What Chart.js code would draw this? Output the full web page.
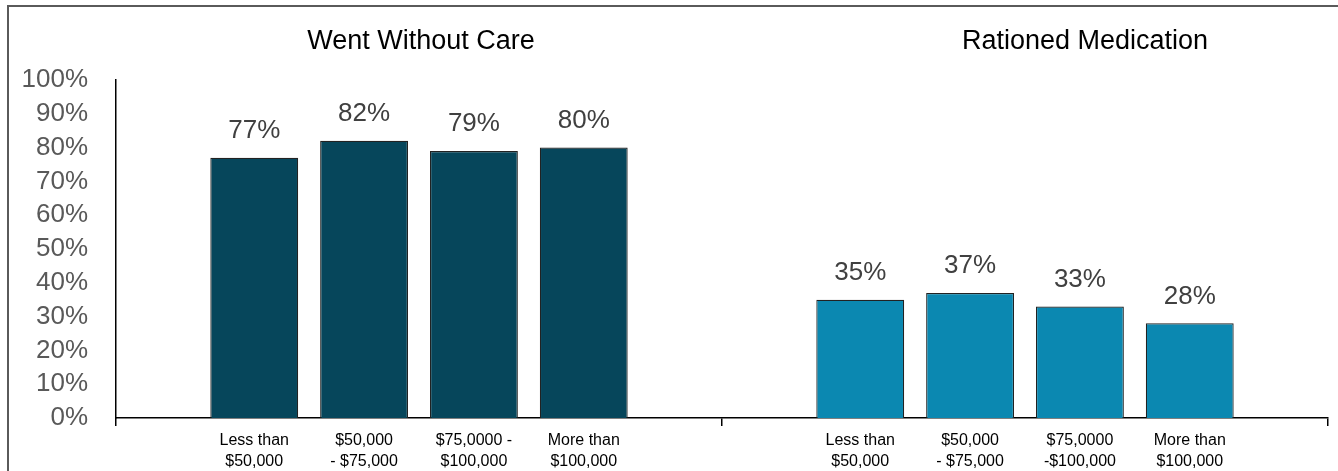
<!DOCTYPE html>
<html>
<head>
<meta charset="utf-8">
<script src="https://cdn.jsdelivr.net/npm/chart.js@4.4.1/dist/chart.umd.min.js"></script>
<style>
    body { margin: 0; background: #fff; overflow: hidden; }
    #wrap { position: relative; width: 1338px; height: 471px; }
    #frame {
        position: absolute; left: 7px; top: 5px; width: 1400px; height: 500px;
        border-left: 2px solid #5a5a5a; border-top: 2px solid #5a5a5a;
        pointer-events: none;
    }
</style>
</head>
<body>
<div id="wrap">
    <canvas id="chart"></canvas>
    <div id="frame"></div>
</div>
<script>
// Data
const groups = ['Went Without Care', 'Rationed Medication'];
const wentWithoutCare = [77, 82, 79, 80];
const rationedMedication = [35, 37, 33, 28];
const careIncomeLabels = [
    ['Less than', '$50,000'],
    ['$50,000', '- $75,000'],
    ['$75,0000 -', '$100,000'],
    ['More than', '$100,000']
];
const medIncomeLabels = [
    ['Less than', '$50,000'],
    ['$50,000', '- $75,000'],
    ['$75,0000', '-$100,000'],
    ['More than', '$100,000']
];
const yTicks = [0, 10, 20, 30, 40, 50, 60, 70, 80, 90, 100];

const groupColors = ['#06465b', '#0b88b1'];
const font = "'Liberation Sans', Arial, sans-serif";
Chart.defaults.font.family = font;

// one dataset per income bracket, one value per group
const datasets = careIncomeLabels.map((lbl, i) => ({
    label: lbl.join(' '),
    data: [wentWithoutCare[i], rationedMedication[i]],
    backgroundColor: groupColors,
    borderColor: '#222',
    borderWidth: 1.2,
    barPercentage: 0.8,
    categoryPercentage: 0.725
}));

const labelPlugin = {
    id: 'labelPlugin',
    afterDatasetsDraw(chart) {
        const ctx = chart.ctx;
        const area = chart.chartArea;
        const incomeLabels = [careIncomeLabels, medIncomeLabels];
        ctx.save();
        ctx.textAlign = 'center';
        ctx.textBaseline = 'middle';
        chart.data.datasets.forEach((ds, i) => {
            const meta = chart.getDatasetMeta(i);
            meta.data.forEach((bar, j) => {
                // value label above bar
                ctx.fillStyle = '#404040';
                ctx.font = '26px ' + font;
                ctx.fillText(ds.data[j] + '%', bar.x, bar.y - 27);
                // income label under bar
                ctx.fillStyle = '#000';
                ctx.font = '16px ' + font;
                const lines = incomeLabels[j][i];
                lines.forEach((t, k) => ctx.fillText(t, bar.x, area.bottom + 23 + k * 21));
            });
        });
        // group titles
        const xs = chart.scales.x;
        const titleShift = [2, 60];
        ctx.fillStyle = '#000';
        ctx.font = '27px ' + font;
        groups.forEach((g, j) => {
            ctx.fillText(g, xs.getPixelForValue(j) + titleShift[j], 42);
        });
        ctx.restore();
    }
};

new Chart(document.getElementById('chart'), {
    type: 'bar',
    data: { labels: groups, datasets: datasets },
    options: {
        responsive: true,
        maintainAspectRatio: false,
        animation: false,
        layout: { padding: { top: 80, right: 10, left: 0, bottom: 0 } },
        plugins: {
            legend: { display: false },
            tooltip: { enabled: false }
        },
        scales: {
            x: {
                type: 'category',
                grid: {
                    display: true,
                    drawOnChartArea: false,
                    offset: true,
                    tickLength: 8,
                    color: '#000',
                    lineWidth: 1.5
                },
                border: { display: true, color: '#000', width: 1.5 },
                ticks: { display: false },
                afterFit(s) { s.height = 53; }
            },
            y: {
                min: 0,
                max: 100,
                afterBuildTicks(s) { s.ticks = yTicks.map(v => ({ value: v })); },
                grid: { display: false, drawTicks: false },
                border: { display: true, color: '#000', width: 1.5 },
                ticks: {
                    color: '#595959',
                    font: { size: 26 },
                    padding: 28,
                    autoSkip: false,
                    callback: v => v + '%'
                },
                afterFit(s) { s.width = 116; }
            }
        }
    },
    plugins: [labelPlugin]
});
</script>
</body>
</html>
